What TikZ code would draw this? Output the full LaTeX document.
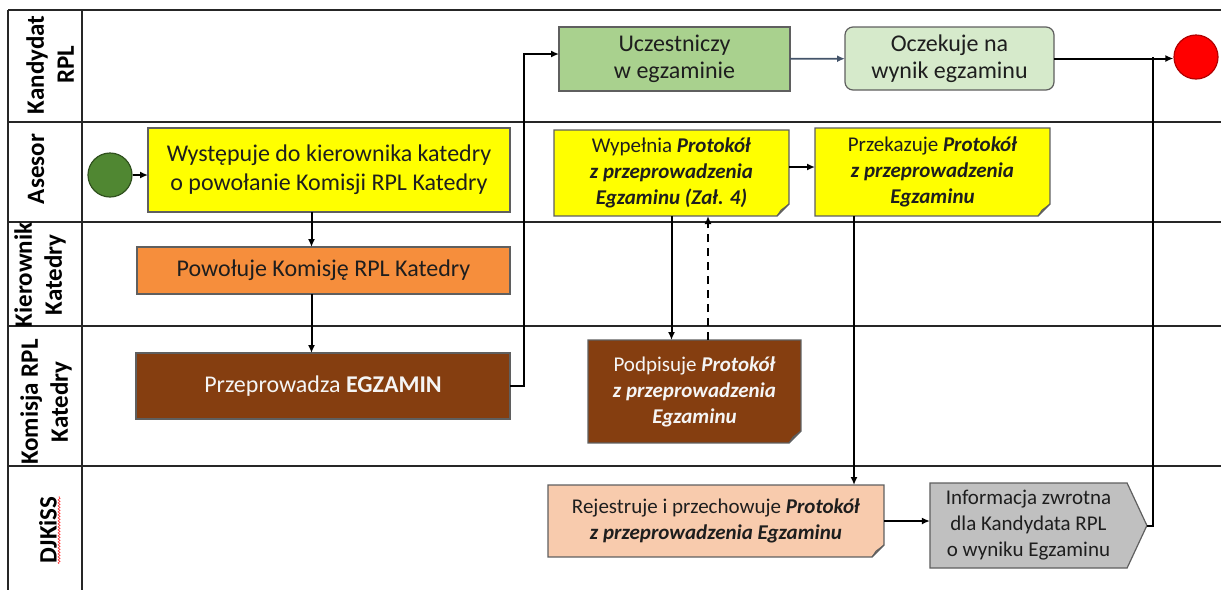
\documentclass[tikz,border=0pt]{standalone}
\usepackage{fontspec}
\setmainfont{Carlito}
\usetikzlibrary{positioning,arrows.meta,shapes.symbols,decorations.pathmorphing}

\definecolor{boxline}{RGB}{95,95,95}
\definecolor{textdark}{RGB}{30,30,30}
\definecolor{textlight}{RGB}{245,245,245}
\definecolor{startgreen}{RGB}{80,135,50}
\definecolor{yellowbox}{RGB}{255,255,0}
\definecolor{yellowfold}{RGB}{215,215,40}
\definecolor{orangebox}{RGB}{246,142,60}
\definecolor{brownbox}{RGB}{133,62,16}
\definecolor{brownfold}{RGB}{90,40,10}
\definecolor{greenbox}{RGB}{169,209,142}
\definecolor{palegreen}{RGB}{214,234,203}
\definecolor{peachbox}{RGB}{248,203,173}
\definecolor{peachfold}{RGB}{215,170,140}
\definecolor{graybox}{RGB}{192,192,192}
\definecolor{slate}{RGB}{68,84,106}

\newcommand{\bemph}[1]{\textbf{\textit{#1}}}
% dog-eared corner for the document boxes
\newcommand{\dogear}[2]{%
  \fill[white] ([xshift=-12pt]#1.south east) -- (#1.south east) -- ([yshift=12pt]#1.south east) -- cycle;
  \filldraw[fill=#2, draw=boxline, line width=0.8pt] ([xshift=-12pt]#1.south east) -- ([yshift=12pt]#1.south east) -- ([xshift=-8pt,yshift=6pt]#1.south east) -- cycle;
  \draw[boxline, line width=1.2pt] (#1.north west) -- (#1.north east) -- ([yshift=12pt]#1.south east) -- ([xshift=-12pt]#1.south east) -- (#1.south west) -- cycle;
}

\begin{document}
\begin{tikzpicture}
        [x=1pt, y=-1pt,
        box/.style={rectangle, draw=boxline, line width=1.2pt, align=center, text=textdark, inner sep=2pt, outer sep=0pt},
        note/.style={rectangle, align=center, text=textdark, inner sep=2pt, outer sep=0pt},
        event/.style={circle, line width=1.2pt, minimum size=44pt, inner sep=0pt},
        bigtext/.style={font=\fontsize{24}{29}\selectfont},
        smalltext/.style={font=\fontsize{21}{26}\selectfont},
        lanelabel/.style={rotate=90, align=center, inner sep=0pt, text=black, font=\bfseries\fontsize{25}{30}\selectfont},
        lane/.style={line width=1.3pt, black!85},
        flow/.style={line width=2pt, black, -{Latex[length=8pt,width=7pt]}}]

        \useasboundingbox (0,0) rectangle (1221,590);

        % lanes
        \draw[lane] (8,10) -- (1221,10);
        \draw[lane] (8,10) -- (8,590);
        \draw[lane] (82,10) -- (82,590);
        \foreach \y in {122,222,326,466}
            \draw[lane] (8,\y) -- (1221,\y);

        % lane labels
        \node[lanelabel] (lblKandydat) at (50,65) {Kandydat\\RPL};
        \node[lanelabel] (lblAsesor) at (36,169) {Asesor};
        \node[lanelabel] (lblKierownik) at (40,275) {Kierownik\\Katedry};
        \node[lanelabel] (lblKomisja) at (46,402) {Komisja RPL\\Katedry};
        \node[lanelabel] (lblDjkiss) at (48,530) {DJKiSS};
        \draw[red!85, line width=0.6pt, decorate, decoration={snake, amplitude=1pt, segment length=3pt}]
            ([xshift=2pt]lblDjkiss.south west) -- ([xshift=2pt]lblDjkiss.south east);

        % events
        \node[event, fill=startgreen, draw=startgreen!60!black] (start) at (110,175) {};
        \node[event, fill=red, draw=red!70!black] (koniec) at (1196,57) {};

        % tasks
        \node[box, bigtext, fill=yellowbox, minimum width=362pt, minimum height=84pt] (wystep) at (329,170)
            {Występuje do kierownika katedry\\o powołanie Komisji RPL Katedry};
        \node[box, bigtext, fill=orangebox, minimum width=373pt, minimum height=47pt] (powoluje) at (323.5,270.5)
            {Powołuje Komisję RPL Katedry};
        \node[box, bigtext, fill=brownbox, text=textlight, minimum width=374pt, minimum height=66pt] (egzamin) at (323,386)
            {Przeprowadza \textbf{EGZAMIN}};
        \node[box, font=\fontsize{24}{27}\selectfont, fill=greenbox, minimum width=231pt, minimum height=64pt] (uczestn) at (674.5,59)
            {Uczestniczy\\w egzaminie};
        \node[box, font=\fontsize{24}{27}\selectfont, fill=palegreen, rounded corners=8pt, minimum width=209pt, minimum height=63pt] (oczekuje) at (949.5,58.5)
            {Oczekuje na\\wynik egzaminu};
        \node[box, smalltext, fill=graybox, signal, signal to=east, signal pointer angle=130, minimum width=217pt, minimum height=85pt] (info) at (1028.5,525.5)
            {Informacja zwrotna\\dla Kandydata RPL\\o wyniku Egzaminu};

        % documents
        \node[note, smalltext, fill=yellowbox, minimum width=235pt, minimum height=86pt] (wypelnia) at (671.5,173)
            {Wypełnia \bemph{Protokół}\\\bemph{z przeprowadzenia}\\\bemph{Egzaminu (Zał. 4)}};
        \dogear{wypelnia}{yellowfold}
        \node[note, smalltext, fill=yellowbox, minimum width=235pt, minimum height=88pt] (przekaz) at (932.5,172)
            {Przekazuje \bemph{Protokół}\\\bemph{z przeprowadzenia}\\\bemph{Egzaminu}};
        \dogear{przekaz}{yellowfold}
        \node[note, smalltext, fill=brownbox, text=textlight, minimum width=213pt, minimum height=103pt] (podpis) at (694.5,391.5)
            {Podpisuje \bemph{Protokół}\\\bemph{z przeprowadzenia}\\\bemph{Egzaminu}};
        \dogear{podpis}{brownfold}
        \node[note, smalltext, fill=peachbox, minimum width=336pt, minimum height=72pt] (rejestr) at (716,521)
            {Rejestruje i przechowuje \bemph{Protokół}\\\bemph{z przeprowadzenia Egzaminu}};
        \dogear{rejestr}{peachfold}

        % flows
        \draw[flow] (start.east) -- (start.east -| wystep.west);
        \draw[flow] ([xshift=-12pt]powoluje.north |- wystep.south) -- ([xshift=-12pt]powoluje.north);
        \draw[flow] ([xshift=-12pt]powoluje.south) -- ([xshift=-12pt]powoluje.south |- egzamin.north);
        \draw[flow] (egzamin.east) -- ++(14,0) |- ([yshift=5pt]uczestn.west);
        \draw[flow, line width=1.6pt, slate] (uczestn) -- (oczekuje);
        \draw[flow] (oczekuje.east) -- (oczekuje.east -| koniec.west);
        \draw[flow] ([yshift=6pt]wypelnia.east) -- ([yshift=6pt]wypelnia.east -| przekaz.west);
        \draw[flow] (wypelnia.south) -- (wypelnia.south |- podpis.north);
        \draw[flow, dash pattern=on 8pt off 6pt] ([xshift=13.5pt]podpis.north) -- ([xshift=13.5pt]podpis.north |- wypelnia.south);
        \draw[flow] ([xshift=-78.5pt]przekaz.south) -- ([xshift=-78.5pt]przekaz.south |- rejestr.north);
        \draw[flow] (rejestr.east) -- (rejestr.east -| info.west);
        \coordinate (laczenie) at (1153,57);
        \draw[line width=2pt] (info.east) -| (laczenie);

\end{tikzpicture}
\end{document}
